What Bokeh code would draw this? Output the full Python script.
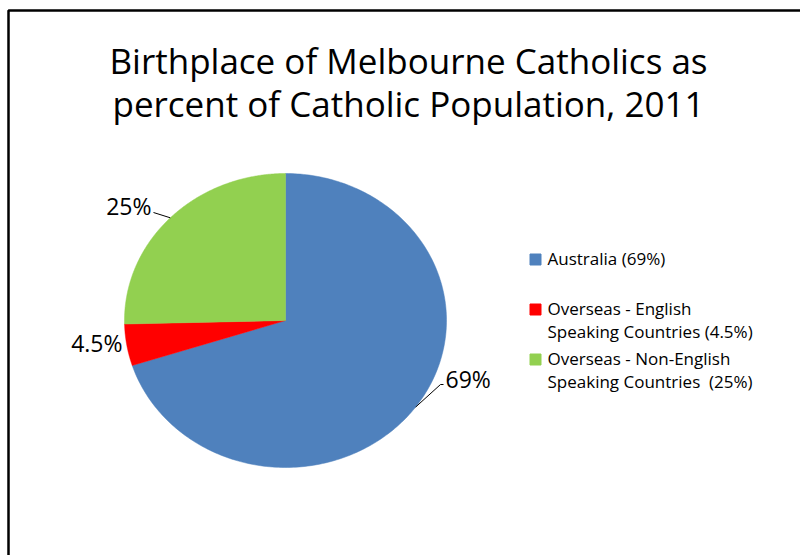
import numpy as np
from bokeh.plotting import figure
from bokeh.models import Range1d
from bokeh.core.properties import value
from bokeh.embed import file_html
from bokeh.resources import INLINE

# ---- data ----
title_lines = ["Birthplace of Melbourne Catholics as",
               "percent of Catholic Population, 2011"]
categories = ["Australia",
              "Overseas - English Speaking Countries",
              "Overseas - Non-English Speaking Countries"]
shares = [69, 4.5, 25]
slice_labels = ["69%", "4.5%", "25%"]
legend_labels = ["Australia (69%)",
                 "Overseas - English\nSpeaking Countries (4.5%)",
                 "Overseas - Non-English\nSpeaking Countries  (25%)"]
colors = ["#4F81BD", "#FF0000", "#92D050"]

# ---- layout (image pixel coordinates) ----
W, H = 800, 555
CX, CY, RX, RY = 285, 320, 161, 147
FONT = value("Open Sans")

p = figure(width=W, height=H, x_range=Range1d(0, W), y_range=Range1d(H, 0),
           output_backend="svg", toolbar_location=None, min_border=0,
           x_axis_location=None, y_axis_location=None)
p.grid.visible = False
p.outline_line_color = None
p.background_fill_color = "white"
p.border_fill_color = "white"

# chart frame (left & top edges visible)
p.line(x=[8, 8, W + 10], y=[H + 10, 10, 10], line_color="black", line_width=2.5)

# title
p.text(x=[408, 408], y=[60, 103], text=title_lines, text_font=FONT,
       text_font_size="35px", text_align="center", text_baseline="alphabetic",
       text_color="black")

# pie slices (elliptical, starting at 12 o'clock, clockwise)
fr = np.array(shares, dtype=float) / np.sum(shares)
cum = np.cumsum(fr)
start_deg = 90 - (cum - fr) * 360
end_deg = 90 - cum * 360
xs, ys = [], []
for a0, a1 in zip(start_deg, end_deg):
    t = np.radians(np.linspace(a0, a1, 240))
    xs.append([CX] + list(CX + RX * np.cos(t)))
    ys.append([CY] + list(CY - RY * np.sin(t)))
p.patches(xs, ys, fill_color=colors, line_color=colors, line_width=0.5)

# slice labels
mid = np.radians((start_deg + end_deg) / 2)
edge_x = CX + RX * np.cos(mid)
edge_y = CY - RY * np.sin(mid)
lab_x = [445, 122, 151]
lab_y = [378, 342, 205]
lab_align = ["left", "right", "right"]
p.text(x=lab_x, y=lab_y, text=slice_labels, text_font=FONT, text_font_size="23px",
       text_align=lab_align, text_baseline="alphabetic", text_color="black")

# leader lines (for 69% and 25%)
p.multi_line(xs=[[edge_x[0], 440, 443], [edge_x[2], 153]],
             ys=[[edge_y[0], 384, 384], [edge_y[2], 212]],
             line_color="black", line_width=1)

# legend
leg_base = [264, 314, 364]
leg_line_gap = 23
p.scatter(x=[535] * 3, y=[b - 5 for b in leg_base], marker="square", size=11,
          fill_color=colors, line_color=colors)
tx, ty, tt = [], [], []
for b, lab in zip(leg_base, legend_labels):
    for i, line in enumerate(lab.split("\n")):
        tx.append(547)
        ty.append(b - 6 + i * leg_line_gap)
        tt.append(line.replace("  ", " \u00a0"))  # keep the double space visible
p.text(x=tx, y=ty, text=tt, text_font=FONT, text_font_size="17px",
       text_align="left", text_baseline="alphabetic", text_color="black")

open("out.html", "w").write(file_html(p, INLINE))
